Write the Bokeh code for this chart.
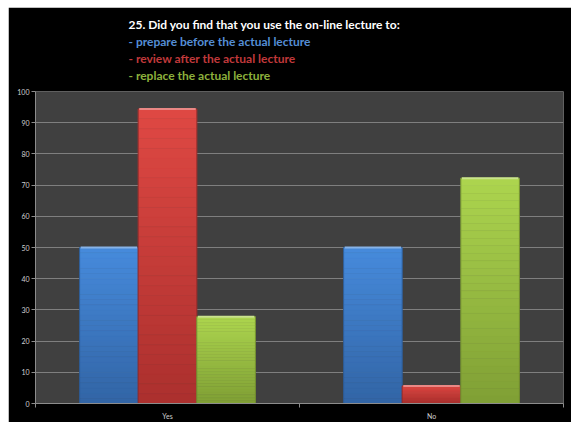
from bokeh.plotting import figure
from bokeh.models import Range1d, FixedTicker, Title, ColumnDataSource
from bokeh.embed import file_html
from bokeh.resources import INLINE

# Survey answers (percent of respondents)
categories = ["Yes", "No"]
series_names = ["prepare before the actual lecture",
                "review after the actual lecture",
                "replace the actual lecture"]
prepare_values = [50.0, 50.0]
review_values = [94.4, 5.6]
replace_values = [27.8, 72.2]
y_ticks = [0, 10, 20, 30, 40, 50, 60, 70, 80, 90, 100]

series_values = [prepare_values, review_values, replace_values]
# top colour, bottom colour of each bar's vertical gradient
gradients = [((70, 138, 219), (50, 101, 166)),
             ((222, 72, 67), (172, 48, 46)),
             ((172, 212, 78), (128, 160, 53))]
edge_colors = ["#2c5a94", "#8f2b29", "#6f8c2e"]
title_colors = ["#558ed5", "#c0393b", "#8db03c"]

BAR_W = 0.222
SLICES = 30

p = figure(width=563, height=415, output_backend="svg", toolbar_location=None,
           x_range=Range1d(0, 2), y_range=Range1d(0, 100),
           min_border_left=27, min_border_right=8,
           min_border_top=84, min_border_bottom=18,
           background_fill_color="#404040", border_fill_color="black",
           outline_line_color=None, margin=(7, 0, 0, 8))

# grid
p.xgrid.grid_line_color = None
p.ygrid.ticker = FixedTicker(ticks=y_ticks)
p.ygrid.grid_line_color = "#7f7f7f"
p.ygrid.grid_line_width = 1.2

# y axis
p.yaxis.ticker = FixedTicker(ticks=y_ticks)
p.yaxis.axis_line_color = "#8c8c8c"
p.yaxis.major_tick_line_color = "#8c8c8c"
p.yaxis.major_tick_out = 4
p.yaxis.major_tick_in = 0
p.yaxis.minor_tick_line_color = None
p.yaxis.major_label_standoff = 2
p.yaxis.major_label_text_font = "Lato"
p.yaxis.major_label_text_font_size = "7px"
p.yaxis.major_label_text_color = "#d0d0d0"

# x axis: labels at category centres, ticks at category boundaries
centers = [i + 0.5 for i in range(len(categories))]
p.xaxis.ticker = FixedTicker(ticks=centers,
                             minor_ticks=list(range(len(categories) + 1)))
p.xaxis.major_label_overrides = {c: name for c, name in zip(centers, categories)}
p.xaxis.axis_line_color = "#8c8c8c"
p.xaxis.major_tick_line_color = None
p.xaxis.major_tick_out = 0
p.xaxis.minor_tick_line_color = "#8c8c8c"
p.xaxis.minor_tick_out = 4
p.xaxis.minor_tick_in = 0
p.xaxis.major_label_standoff = 4
p.xaxis.major_label_text_font = "Lato"
p.xaxis.major_label_text_font_size = "7px"
p.xaxis.major_label_text_color = "#d0d0d0"


def mix(c0, c1, t):
    return "#%02x%02x%02x" % tuple(int(round(a + (b - a) * t)) for a, b in zip(c0, c1))


# bars drawn as stacks of thin slices to give a top-to-bottom gradient
for s, values in enumerate(series_values):
    offset = (s - 1) * BAR_W
    top_c, bot_c = gradients[s]
    left, right, bottom, top, color = [], [], [], [], []
    for c, v in zip(centers, values):
        for k in range(SLICES):
            left.append(c + offset - BAR_W / 2)
            right.append(c + offset + BAR_W / 2)
            bottom.append(v * k / SLICES)
            top.append(v * (k + 1) / SLICES)
            color.append(mix(bot_c, top_c, k / (SLICES - 1)))
    src = ColumnDataSource(dict(left=left, right=right, bottom=bottom, top=top, color=color))
    p.quad(left="left", right="right", bottom="bottom", top="top", source=src,
           fill_color="color", line_color="color", line_width=0.5)
    xs = [c + offset for c in centers]
    p.vbar(x=xs, top=values, width=BAR_W, bottom=0, fill_color=None,
           line_color=edge_colors[s], line_width=1, line_alpha=0.8)
    # light bevel along the top of each bar
    p.segment(x0=[x - BAR_W / 2 + 0.004 for x in xs], x1=[x + BAR_W / 2 - 0.004 for x in xs],
              y0=values, y1=values, line_color=mix(top_c, (255, 255, 255), 0.35),
              line_width=2)

# blank strip between the title block and the plot area
p.add_layout(Title(text=" ", text_font_size="7px", text_line_height=1.05,
                   standoff=0), "above")

# title block: one Title per line, added from the bottom line upwards
title_lines = ["25. Did you find that you use the on-line lecture to:"] + \
              ["- " + n for n in series_names]
line_colors = ["white"] + title_colors
for i in reversed(range(len(title_lines))):
    p.add_layout(Title(text=title_lines[i], text_color=line_colors[i], align="left",
                       offset=93, text_font="Lato", text_font_style="bold",
                       text_font_size="12px", standoff=0,
                       text_line_height=1.45), "above")

open("out.html", "w").write(file_html(p, INLINE))
